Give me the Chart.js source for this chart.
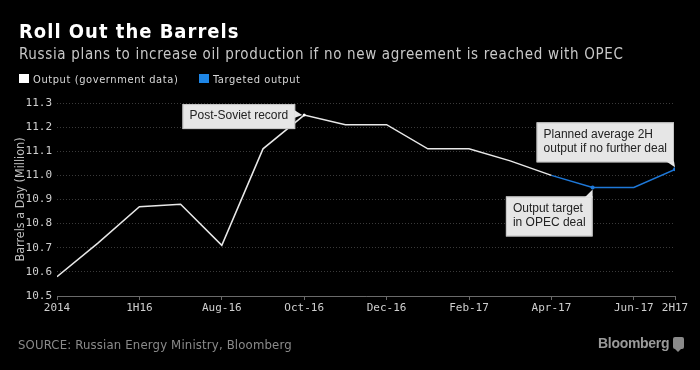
<!DOCTYPE html>
<html>
<head>
<meta charset="utf-8">
<script src="https://cdn.jsdelivr.net/npm/chart.js@4"></script>
<style>
  body { margin: 0; background: #000; }
  #wrap { position: relative; width: 700px; height: 370px; background: #000; overflow: hidden;
          font-family: "DejaVu Sans Condensed", "DejaVu Sans", sans-serif; font-stretch: condensed; }
  #chart { position: absolute; left: 0; top: 0; }
  .t { position: absolute; white-space: nowrap; }
  .title { left: 19px; top: 19px; color: #fff; font-size: 20px; font-weight: bold; letter-spacing: 1px; }
  .sub { left: 19px; top: 45px; color: #c8c8c8; font-size: 15px; letter-spacing: 0.66px; }
  .leg { top: 73px; color: #d8d8d8; font-size: 11px; letter-spacing: 0.6px; }
  .box { position: absolute; top: 74px; width: 10px; height: 9px; }
  .source { left: 18px; top: 337px; color: #8a8a8a; font-size: 13px; letter-spacing: 0.17px; }
  .logo { left: 598px; top: 335px; color: #9a9a9a; font-size: 14px; font-weight: bold; font-stretch: normal;
          font-family: "Liberation Sans", Arial, sans-serif; letter-spacing: -0.3px; }
  .icon { position: absolute; left: 673px; top: 337px; width: 11px; height: 12px; background: #8a8a8a; border-radius: 2px; }
  .icon:after { content: ""; position: absolute; left: 2px; bottom: -3px; border-left: 3px solid transparent;
                border-right: 3px solid transparent; border-top: 3px solid #8a8a8a; }
</style>
</head>
<body>
<div id="wrap">
  <canvas id="chart" width="700" height="370"></canvas>
  <div class="t title">Roll Out the Barrels</div>
  <div class="t sub">Russia plans to increase oil production if no new agreement is reached with OPEC</div>
  <div class="box" style="left:19px;background:#fff"></div>
  <div class="t leg" style="left:33px">Output (government data)</div>
  <div class="box" style="left:199px;background:#1e86e6"></div>
  <div class="t leg" style="left:213px">Targeted output</div>
  <div class="t source">SOURCE: Russian Energy Ministry, Bloomberg</div>
  <div class="t logo">Bloomberg</div>
  <div class="icon"></div>
</div>
<script>
// x positions are period indexes (half-way steps between labelled ticks)
const outputX = [0, 1, 2, 3, 4, 5, 6, 7, 8, 9, 10, 11, 12];
const outputValues = [10.58, 10.72, 10.87, 10.88, 10.71, 11.11, 11.25, 11.21, 11.21, 11.11, 11.11, 11.06, 11.00];
const targetX = [12, 13, 14, 15];
const targetValues = [11.00, 10.95, 10.95, 11.025];
const tickIndex = [0, 2, 4, 6, 8, 10, 12, 14, 15];
const tickLabels = ['2014', '1H16', 'Aug-16', 'Oct-16', 'Dec-16', 'Feb-17', 'Apr-17', 'Jun-17', '2H17'];

// callouts tied to a data point
const notes = [
  { x: 6, y: 11.25, lines: ['Post-Soviet record'], side: 'left' },
  { x: 15, y: 11.025, lines: ['Planned average 2H', 'output if no further deal'], side: 'above' },
  { x: 13, y: 10.95, lines: ['Output target', 'in OPEC deal'], side: 'below' }
];

const blue = '#1e78d8';
const tickFont = { family: 'DejaVu Sans Mono', size: 11 };

const calloutPlugin = {
  id: 'callouts',
  afterDatasetsDraw(chart) {
    const ctx = chart.ctx;
    const xs = chart.scales.x, ys = chart.scales.y;
    ctx.save();
    ctx.font = '12px "Liberation Sans", Arial, sans-serif';
    notes.forEach(n => {
      const px = xs.getPixelForValue(n.x);
      const py = ys.getPixelForValue(n.y);
      const w = Math.max(...n.lines.map(l => ctx.measureText(l).width)) + 14;
      const h = n.lines.length * 14 + (n.lines.length > 1 ? 12 : 11);
      let bx, by;
      if (n.side === 'left') { bx = px - 9 - w; by = py - 11; }
      else if (n.side === 'above') { bx = px - w - 1; by = py - 7 - h; }
      else { bx = px - w; by = py + 9; }
      ctx.fillStyle = '#e6e6e6';
      ctx.strokeStyle = '#c4c4c4';
      ctx.lineWidth = 1;
      ctx.fillRect(bx, by, w, h);
      ctx.strokeRect(bx + 0.5, by + 0.5, w - 1, h - 1);
      // tail
      ctx.beginPath();
      if (n.side === 'left') {
        ctx.moveTo(bx + w - 1, by + 6); ctx.lineTo(px - 2, py); ctx.lineTo(bx + w - 1, by + 14);
      } else if (n.side === 'above') {
        ctx.moveTo(bx + w - 8, by + h - 1); ctx.lineTo(px, py - 2); ctx.lineTo(bx + w, by + h - 1);
      } else {
        ctx.moveTo(bx + w - 8, by + 1); ctx.lineTo(px, py + 2); ctx.lineTo(bx + w, by + 1);
      }
      ctx.closePath();
      ctx.fillStyle = '#e6e6e6';
      ctx.fill();
      ctx.fillStyle = '#222';
      ctx.textBaseline = 'top';
      n.lines.forEach((l, i) => ctx.fillText(l, bx + 7, by + 6 + i * 14.5));
    });
    ctx.restore();
  }
};

const toPoints = (xs, ys) => xs.map((x, i) => ({ x: x, y: ys[i] }));

new Chart(document.getElementById('chart'), {
  type: 'line',
  data: {
    datasets: [{
      label: 'Output (government data)',
      data: toPoints(outputX, outputValues),
      borderColor: '#e8e8e8',
      borderWidth: 1.5,
      pointRadius: outputX.map(x => x === 6 ? 1.5 : 0),
      pointBackgroundColor: '#fff',
      pointBorderWidth: 0,
      tension: 0
    }, {
      label: 'Targeted output',
      data: toPoints(targetX, targetValues),
      borderColor: blue,
      borderWidth: 1.5,
      pointRadius: targetX.map(x => (x === 13 || x === 15) ? 2 : 0),
      pointBackgroundColor: blue,
      pointBorderWidth: 0,
      tension: 0
    }]
  },
  options: {
    responsive: false,
    animation: false,
    layout: { padding: { top: 103, right: 25, bottom: 54, left: 0 } },
    plugins: { legend: { display: false }, tooltip: { enabled: false } },
    scales: {
      x: {
        type: 'linear',
        min: 0,
        max: 15,
        afterBuildTicks: axis => { axis.ticks = tickIndex.map(v => ({ value: v })); },
        afterFit: axis => { axis.height = 20; },
        ticks: {
          autoSkip: false,
          maxRotation: 0,
          padding: 2,
          color: '#cfcfcf',
          font: tickFont,
          callback: v => tickLabels[tickIndex.indexOf(v)]
        },
        grid: { drawOnChartArea: false, drawTicks: true, tickLength: 4, color: '#6a6a6a' },
        border: { display: true, color: '#6a6a6a', width: 1 }
      },
      y: {
        min: 10.5,
        max: 11.3,
        afterFit: axis => { axis.width = 57; },
        ticks: {
          stepSize: 0.1,
          padding: 5,
          color: '#cfcfcf',
          font: tickFont,
          callback: v => v.toFixed(1)
        },
        title: {
          display: true,
          text: 'Barrels a Day (Million)',
          color: '#bdbdbd',
          font: { family: 'DejaVu Sans Condensed', size: 12.5 },
          padding: { top: 13, bottom: 0 }
        },
        grid: { drawTicks: false, color: '#3a3a3a', lineWidth: 1 },
        border: { display: false, dash: [1, 2] }
      }
    }
  },
  plugins: [calloutPlugin]
});
</script>
</body>
</html>
